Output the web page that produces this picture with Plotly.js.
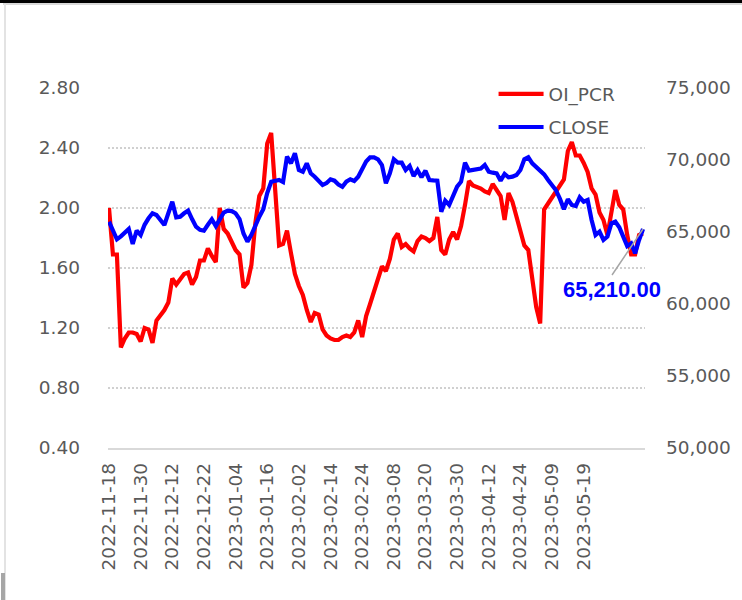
<!DOCTYPE html>
<html>
<head>
<meta charset="utf-8">
<script src="https://cdn.plot.ly/plotly-3.0.1.min.js"></script>
<style>
  html, body { margin: 0; padding: 0; background: #ffffff; overflow: hidden; }
  #chart { position: absolute; left: 0; top: 0; width: 742px; height: 600px; }
  .frame { position: absolute; pointer-events: none; }
</style>
</head>
<body>
<div id="chart"></div>
<div class="frame" style="left:0;top:0;width:742px;height:3px;background:#000;"></div>
<div class="frame" style="left:3px;top:3px;width:739px;height:2px;background:#d9d9d9;"></div>
<div class="frame" style="left:4px;top:4px;width:2px;height:596px;background:#e3e3e3;"></div>
<div class="frame" style="left:1px;top:573px;width:4px;height:27px;background:#a6a6a6;"></div>
<script>
// Trading dates (category axis)
const dates = [
  "2022-11-18","2022-11-21","2022-11-22","2022-11-23","2022-11-24","2022-11-25","2022-11-28","2022-11-29","2022-11-30",
  "2022-12-01","2022-12-02","2022-12-05","2022-12-06","2022-12-07","2022-12-08","2022-12-09","2022-12-12",
  "2022-12-13","2022-12-14","2022-12-15","2022-12-16","2022-12-19","2022-12-20","2022-12-21","2022-12-22",
  "2022-12-23","2022-12-27","2022-12-28","2022-12-29","2022-12-30","2023-01-02","2023-01-03","2023-01-04",
  "2023-01-05","2023-01-06","2023-01-09","2023-01-10","2023-01-11","2023-01-12","2023-01-13","2023-01-16",
  "2023-01-17","2023-01-18","2023-01-19","2023-01-20","2023-01-23","2023-01-24","2023-01-25","2023-02-02",
  "2023-02-03","2023-02-06","2023-02-07","2023-02-08","2023-02-09","2023-02-10","2023-02-13","2023-02-14",
  "2023-02-15","2023-02-16","2023-02-17","2023-02-20","2023-02-21","2023-02-22","2023-02-23","2023-02-24",
  "2023-02-27","2023-02-28","2023-03-01","2023-03-02","2023-03-03","2023-03-06","2023-03-07","2023-03-08",
  "2023-03-09","2023-03-10","2023-03-13","2023-03-14","2023-03-15","2023-03-16","2023-03-17","2023-03-20",
  "2023-03-21","2023-03-22","2023-03-23","2023-03-24","2023-03-27","2023-03-28","2023-03-29","2023-03-30",
  "2023-03-31","2023-04-03","2023-04-04","2023-04-05","2023-04-06","2023-04-10","2023-04-11","2023-04-12",
  "2023-04-13","2023-04-14","2023-04-17","2023-04-18","2023-04-19","2023-04-20","2023-04-21","2023-04-24",
  "2023-04-25","2023-04-26","2023-04-27","2023-04-28","2023-05-03","2023-05-04","2023-05-08","2023-05-09",
  "2023-05-10","2023-05-11","2023-05-12","2023-05-15","2023-05-16","2023-05-17","2023-05-18","2023-05-19",
  "2023-05-22","2023-05-23","2023-05-24","2023-05-25","2023-05-26","2023-05-29","2023-05-30","2023-05-31",
  "2023-06-01","2023-06-02","2023-06-05","2023-06-06","2023-06-07","2023-06-08","2023-06-09"
];

// OI_PCR (left axis)
const oiPcr = [
  2.00,1.69,1.69,1.07,1.13,1.17,1.17,1.16,1.11,
  1.20,1.19,1.10,1.25,1.28,1.32,1.37,1.53,
  1.49,1.53,1.56,1.57,1.49,1.54,1.65,1.65,
  1.73,1.68,1.64,2.00,1.86,1.83,1.78,1.72,
  1.69,1.47,1.50,1.62,1.90,2.08,2.13,2.43,
  2.50,2.15,1.75,1.76,1.85,1.70,1.56,1.48,
  1.42,1.32,1.24,1.30,1.29,1.19,1.15,1.13,
  1.12,1.12,1.14,1.15,1.14,1.17,1.25,1.14,
  1.28,1.36,1.44,1.53,1.61,1.58,1.66,1.79,
  1.83,1.74,1.76,1.73,1.71,1.78,1.81,1.80,
  1.78,1.80,1.94,1.72,1.69,1.79,1.84,1.79,
  1.88,2.02,2.18,2.15,2.14,2.13,2.11,2.10,
  2.16,2.12,2.08,1.92,2.10,2.04,1.95,1.84,
  1.75,1.72,1.53,1.34,1.23,1.99,2.03,2.07,
  2.11,2.16,2.19,2.38,2.44,2.35,2.35,2.30,
  2.24,2.13,2.09,1.97,1.92,1.82,1.98,2.12,
  2.02,1.99,1.82,1.69,1.69,1.82,1.83
];

// CLOSE (right axis)
const closeVals = [
  65716,65100,64490,64700,64910,65208,64167,65090,64792,
  65500,65950,66298,66180,65800,65486,66300,67105,
  66020,66066,66300,66483,65900,65370,65150,65090,
  65500,65882,65417,65900,66350,66483,66450,66300,
  65900,64900,64329,64800,65500,66066,66576,67700,
  68494,68580,68611,68470,70230,69770,70465,69306,
  69190,69770,69075,68840,68500,68264,68400,68660,
  68564,68300,68147,68500,68660,68542,68840,69355,
  69900,70188,70188,70050,69653,68380,69075,70050,
  69816,69816,69306,69583,68889,69306,68800,69257,
  68611,68580,68560,66410,67175,66875,67570,68147,
  68494,69816,69260,69306,69306,69400,69653,69190,
  69120,69075,68564,69030,68800,68840,68958,69306,
  70050,70190,69770,69500,69300,69000,68611,68264,
  67900,67300,66576,67270,66875,66806,67410,67105,
  67222,65833,64792,65020,64445,64676,65600,65716,
  65327,64676,64028,64212,63519,64445,65210
];

// X tick labels (every 8th trading day)
const tickDates = [
  "2022-11-18","2022-11-30","2022-12-12","2022-12-22","2023-01-04","2023-01-16",
  "2023-02-02","2023-02-14","2023-02-24","2023-03-08","2023-03-20","2023-03-30",
  "2023-04-12","2023-04-24","2023-05-09","2023-05-19"
];

const seriesNames = ["OI_PCR", "CLOSE"];

const gray = "#595959";
const tickFam = "'DejaVu Sans', Verdana, sans-serif";
const boldFam = "'Liberation Sans', Arial, sans-serif";

const lastIdx = dates.length - 1;
const lastClose = closeVals[lastIdx];
const lastLabel = lastClose.toLocaleString("en-US", {minimumFractionDigits: 2, maximumFractionDigits: 2});

const traces = [
  {
    x: dates, y: oiPcr, name: seriesNames[0], type: "scatter", mode: "lines",
    line: {color: "#ff0000", width: 4.2}, yaxis: "y", legendgroup: "a"
  },
  {
    x: dates, y: closeVals, name: seriesNames[1], type: "scatter", mode: "lines",
    line: {color: "#0000ff", width: 4.2}, yaxis: "y2", legendgroup: "b"
  }
];

const layout = {
  width: 742, height: 600,
  margin: {l: 108, r: 97, t: 88, b: 152},
  paper_bgcolor: "rgba(0,0,0,0)",
  plot_bgcolor: "rgba(0,0,0,0)",
  font: {family: tickFam, color: gray, size: 18},
  showlegend: true,
  legend: {
    x: 0.718, y: 1.035, xanchor: "left", yanchor: "top",
    font: {family: tickFam, color: gray, size: 18.5},
    bgcolor: "rgba(0,0,0,0)", traceorder: "grouped", tracegroupgap: 6,
    itemwidth: 45
  },
  xaxis: {
    type: "category",
    range: [-0.25, lastIdx + 0.5],
    tickmode: "array", tickvals: tickDates, ticktext: tickDates,
    tickangle: -90, ticks: "",
    showgrid: false, zeroline: false,
    showline: true, linecolor: "#d9d9d9", linewidth: 1.5,
    tickfont: {family: tickFam, color: gray, size: 18.5},
    ticklabelstandoff: 6
  },
  yaxis: {
    range: [0.4, 2.8], dtick: 0.4, tick0: 0.4, tickformat: ".2f",
    showgrid: true, gridcolor: "#d0d0d0", gridwidth: 1.5, griddash: "2px,2px",
    zeroline: false, showline: false, ticks: "",
    tickfont: {family: tickFam, color: gray, size: 18.5},
    ticklabelstandoff: 27
  },
  yaxis2: {
    overlaying: "y", side: "right",
    range: [50000, 75000], dtick: 5000, tick0: 50000, tickformat: ",d",
    showgrid: false, zeroline: false, showline: false, ticks: "",
    tickfont: {family: tickFam, color: gray, size: 18.5},
    ticklabelstandoff: 20
  },
  annotations: [{
    x: dates[lastIdx], y: lastClose, xref: "x", yref: "y2",
    text: "<b>" + lastLabel + "</b>",
    showarrow: true, arrowhead: 0, arrowwidth: 1.5, arrowcolor: "#a6a6a6",
    ax: -31, ay: 46, xanchor: "center", yanchor: "top", standoff: 0,
    font: {family: boldFam, color: "#0000ff", size: 22}
  }]
};

Plotly.newPlot("chart", traces, layout, {displayModeBar: false, staticPlot: true});
</script>
</body>
</html>
